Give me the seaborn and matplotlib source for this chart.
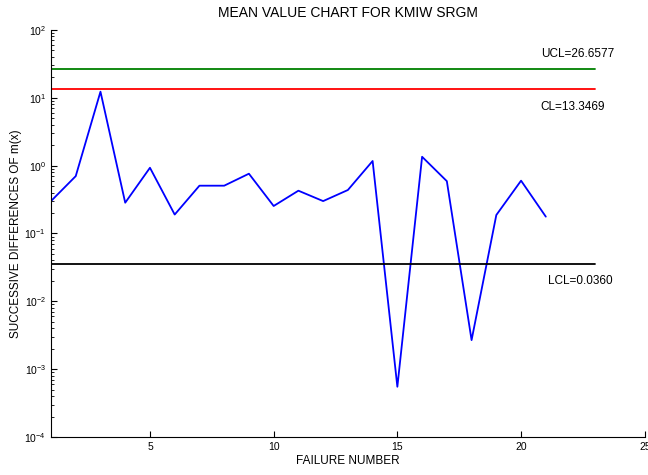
import numpy as np
import pandas as pd
import matplotlib
matplotlib.use("Agg")
import matplotlib.pyplot as plt
import seaborn as sns

failure_number = list(range(1, 22))
succ_diff = [0.30, 0.70, 12.3, 0.284, 0.93, 0.19, 0.506, 0.506, 0.76, 0.254,
             0.427, 0.30, 0.437, 1.17, 0.00055, 1.35, 0.59, 0.00268, 0.187,
             0.60, 0.177]

limit_x = [1, 23]
ucl = 26.6577
cl = 13.3469
lcl = 0.0360

sns.set_style("ticks", {"axes.edgecolor": "black", "text.color": "black",
                        "axes.labelcolor": "black", "xtick.color": "black",
                        "ytick.color": "black"})
plt.rcParams["font.family"] = ["Liberation Sans", "DejaVu Sans"]
plt.rcParams["mathtext.fontset"] = "custom"
plt.rcParams["mathtext.rm"] = "Liberation Sans"
plt.rcParams["mathtext.it"] = "Liberation Sans:italic"

fig = plt.figure(figsize=(6.48, 4.75), dpi=100)
ax = fig.add_axes([0.0787, 0.08, 0.9163, 0.857])

df = pd.DataFrame({"x": failure_number, "y": succ_diff})
sns.lineplot(data=df, x="x", y="y", color="blue", linewidth=1.3, ax=ax)

for val, col in [(ucl, "green"), (cl, "red"), (lcl, "black")]:
    sns.lineplot(x=limit_x, y=[val, val], color=col, linewidth=1.3, ax=ax)

ax.set_yscale("log")
ax.set_ylim(1e-4, 1e2)
ax.set_xlim(1, 25)
ax.set_xticks([5, 10, 15, 20, 25])

ax.text(20.8, ucl * 1.35, "UCL=26.6577", fontsize=8.5, va="bottom")
ax.text(20.8, cl * 0.68, "CL=13.3469", fontsize=8.5, va="top")
ax.text(21.1, lcl * 0.68, "LCL=0.0360", fontsize=8.5, va="top")

ax.set_title("MEAN VALUE CHART FOR KMIW SRGM", fontsize=10, pad=9)
ax.set_xlabel("FAILURE NUMBER", fontsize=8.5, labelpad=2)
ax.set_ylabel("SUCCESSIVE DIFFERENCES OF m(x)", fontsize=8.5, labelpad=2)

ax.tick_params(which="both", direction="in", labelsize=7.5)
ax.tick_params(which="major", length=4)
ax.tick_params(which="minor", length=2)
sns.despine(ax=ax)

fig.savefig("out.png", dpi=100)
